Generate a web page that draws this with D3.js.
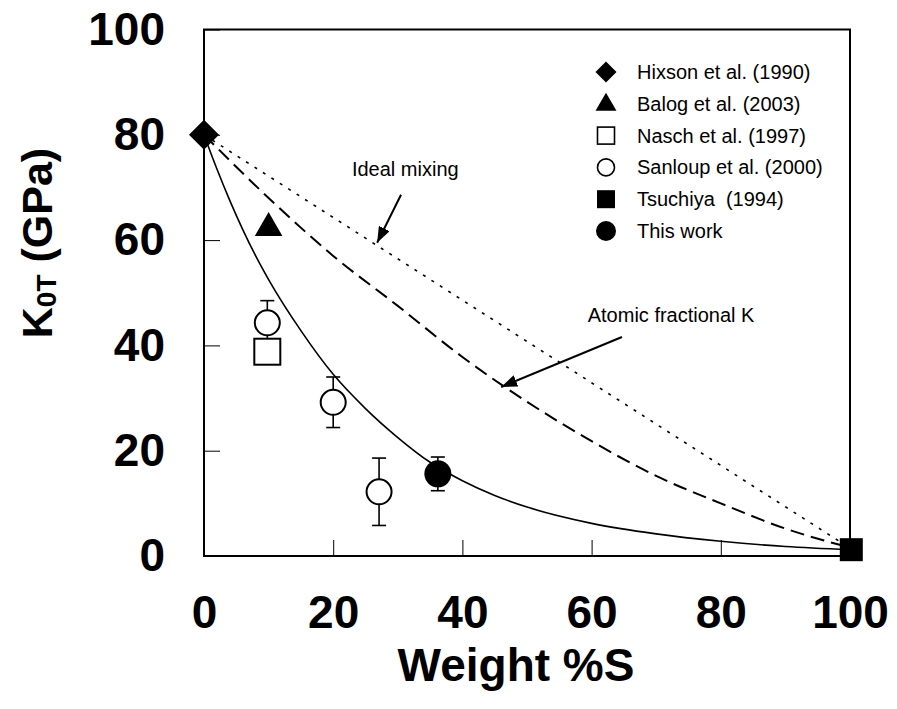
<!DOCTYPE html>
<html>

<head>
    <style>
        body { margin: 0; background: #fff; }
        svg text { font-family: "Liberation Sans", Arial, sans-serif; white-space: pre; }
    </style>
</head>

<body>
    <script src="https://d3js.org/d3.v7.min.js"></script>
    <div id="chart"></div>
    <script>
        const width = 897
        const height = 709

        // weight %S vs K0T (GPa)
        const solidX = [0, 2, 4, 6, 8, 10, 15, 20, 25, 30, 35, 40, 45, 50, 60, 70, 80, 90, 100]
        const solidY = [80, 73.5, 67.5, 62, 57, 52.5, 42.8, 34.5, 28, 22.5, 17.8, 14.3, 11.5, 9.3, 6.2, 4.2, 2.8, 1.8, 1.2]

        const atomicX = [0, 10, 20, 30, 40, 50, 60, 70, 80, 90, 100]
        const atomicY = [80, 68, 57, 47.5, 37.8, 29.3, 21.8, 15.2, 10, 5.2, 1.6]

        const idealX = [0, 100]
        const idealY = [80, 1.5]

        const hixson = [[0, 80]]
        const balog = [[10, 62.3]]
        const nasch = [[9.8, 38.8]]
        const sanloupX = [9.8, 20, 27.1]
        const sanloupY = [44.3, 29.2, 12.2]
        const sanloupErr = [4.2, 4.8, 6.4]
        const tsuchiya = [[100.2, 1.2]]
        const thisWorkX = [36.2]
        const thisWorkY = [15.6]
        const thisWorkErr = [3.2]

        const tickValues = [0, 20, 40, 60, 80, 100]
        const legendLabels = ["Hixson et al. (1990)", "Balog et al. (2003)", "Nasch et al. (1997)",
            "Sanloup et al. (2000)", "Tsuchiya  (1994)", "This work"]

        const xScale = d3.scaleLinear().domain([0, 100]).range([204, 850])
        const yScale = d3.scaleLinear().domain([0, 100]).range([556, 29.5])

        const svg = d3.select("#chart").append("svg")
            .attr("width", width).attr("height", height)

        svg.append("defs").append("marker")
            .attr("id", "arrow")
            .attr("markerUnits", "userSpaceOnUse")
            .attr("viewBox", "0 0 16 12")
            .attr("refX", 16).attr("refY", 6)
            .attr("markerWidth", 16).attr("markerHeight", 12)
            .attr("orient", "auto")
            .append("path").attr("d", "M0,0 L16,6 L0,12 Z").attr("fill", "#000")

        // axes with inward ticks
        const xAxis = d3.axisBottom(xScale).tickValues(tickValues)
            .tickSizeInner(-16).tickSizeOuter(0).tickPadding(39)
        const yAxis = d3.axisLeft(yScale).tickValues(tickValues)
            .tickSizeInner(-16).tickSizeOuter(0).tickPadding(39)

        const gx = svg.append("g").attr("transform", "translate(0,556)").call(xAxis)
        const gy = svg.append("g").attr("transform", "translate(204,0)").call(yAxis)
        for (const g of [gx, gy]) {
            g.select(".domain").remove()
            g.selectAll("line").attr("stroke", "#000").attr("stroke-width", 1)
            g.selectAll("text").attr("font-size", 46).attr("font-weight", "bold")
                .attr("font-family", "Liberation Sans, Arial, sans-serif").attr("fill", "#000")
        }

        svg.append("rect")
            .attr("x", xScale(0)).attr("y", yScale(100))
            .attr("width", xScale(100) - xScale(0)).attr("height", yScale(0) - yScale(100))
            .attr("fill", "none").attr("stroke", "#000").attr("stroke-width", 2)

        // curves
        const line = d3.line().x(d => xScale(d[0])).y(d => yScale(d[1]))
        const zip = (xs, ys) => xs.map((x, i) => [x, ys[i]])

        svg.append("path").datum(zip(idealX, idealY)).attr("d", line)
            .attr("fill", "none").attr("stroke", "#000").attr("stroke-width", 1.6)
            .attr("stroke-dasharray", "3,7")
        svg.append("path").datum(zip(atomicX, atomicY)).attr("d", line.curve(d3.curveMonotoneX))
            .attr("fill", "none").attr("stroke", "#000").attr("stroke-width", 2)
            .attr("stroke-dasharray", "14,7")
        svg.append("path").datum(zip(solidX, solidY)).attr("d", line.curve(d3.curveMonotoneX))
            .attr("fill", "none").attr("stroke", "#000").attr("stroke-width", 1.6)

        // error bars
        const errData = zip(sanloupX, sanloupY).map((d, i) => [d[0], d[1], sanloupErr[i]])
            .concat(zip(thisWorkX, thisWorkY).map((d, i) => [d[0], d[1], thisWorkErr[i]]))
        const eb = svg.append("g").attr("stroke", "#000").attr("stroke-width", 1.6)
        errData.forEach(d => {
            const cx = xScale(d[0])
            eb.append("line").attr("x1", cx).attr("x2", cx)
                .attr("y1", yScale(d[1] - d[2])).attr("y2", yScale(d[1] + d[2]))
            for (const v of [d[1] - d[2], d[1] + d[2]]) {
                eb.append("line").attr("x1", cx - 7).attr("x2", cx + 7)
                    .attr("y1", yScale(v)).attr("y2", yScale(v))
            }
        })

        // markers
        const sym = (type, size) => d3.symbol().type(type).size(size)
        const diamond = s => `M0,${-s}L${s},0L0,${s}L${-s},0Z`

        svg.selectAll(".hix").data(hixson).enter().append("path")
            .attr("transform", d => `translate(${xScale(d[0])},${yScale(d[1])})`)
            .attr("d", diamond(15)).attr("fill", "#000")
        svg.selectAll(".bal").data(balog).enter().append("path")
            .attr("transform", d => `translate(${xScale(d[0])},${yScale(d[1])})`)
            .attr("d", sym(d3.symbolTriangle, 330)).attr("fill", "#000")
        svg.selectAll(".nas").data(nasch).enter().append("rect")
            .attr("x", d => xScale(d[0]) - 13).attr("y", d => yScale(d[1]) - 13)
            .attr("width", 26).attr("height", 26)
            .attr("fill", "#fff").attr("stroke", "#000").attr("stroke-width", 2)
        svg.selectAll(".san").data(zip(sanloupX, sanloupY)).enter().append("circle")
            .attr("cx", d => xScale(d[0])).attr("cy", d => yScale(d[1])).attr("r", 12.5)
            .attr("fill", "#fff").attr("stroke", "#000").attr("stroke-width", 2)
        svg.selectAll(".tw").data(zip(thisWorkX, thisWorkY)).enter().append("circle")
            .attr("cx", d => xScale(d[0])).attr("cy", d => yScale(d[1])).attr("r", 13.5)
            .attr("fill", "#000")
        svg.selectAll(".tsu").data(tsuchiya).enter().append("rect")
            .attr("x", d => xScale(d[0]) - 11.5).attr("y", d => yScale(d[1]) - 11.5)
            .attr("width", 23).attr("height", 23).attr("fill", "#000")

        // annotations
        const notes = [
            { text: "Ideal mixing", tx: 22.9, ty: 72.2, from: [30.5, 68.6], to: [26.8, 59.5] },
            { text: "Atomic fractional K", tx: 59.4, ty: 44.4, from: [64.7, 41.6], to: [46.0, 32.1] }
        ]
        notes.forEach(n => {
            svg.append("text").attr("x", xScale(n.tx)).attr("y", yScale(n.ty))
                .attr("font-size", 20).text(n.text)
            svg.append("line")
                .attr("x1", xScale(n.from[0])).attr("y1", yScale(n.from[1]))
                .attr("x2", xScale(n.to[0])).attr("y2", yScale(n.to[1]))
                .attr("stroke", "#000").attr("stroke-width", 2).attr("marker-end", "url(#arrow)")
        })

        // legend
        const legend = svg.append("g").attr("transform", "translate(606,72)")
        legendLabels.forEach((label, i) => {
            const row = legend.append("g").attr("transform", `translate(0,${i * 31.8})`)
            if (i === 0) row.append("path").attr("d", diamond(10.5)).attr("fill", "#000")
            if (i === 1) row.append("path").attr("d", sym(d3.symbolTriangle, 190)).attr("fill", "#000")
                .attr("transform", "translate(0,1)")
            if (i === 2) row.append("rect").attr("x", -8.5).attr("y", -8.5).attr("width", 17).attr("height", 17)
                .attr("fill", "#fff").attr("stroke", "#000").attr("stroke-width", 1.6)
            if (i === 3) row.append("circle").attr("r", 8.5)
                .attr("fill", "#fff").attr("stroke", "#000").attr("stroke-width", 1.6)
            if (i === 4) row.append("rect").attr("x", -9).attr("y", -9).attr("width", 18).attr("height", 18)
                .attr("fill", "#000")
            if (i === 5) row.append("circle").attr("r", 10).attr("fill", "#000")
            row.append("text").attr("x", 31).attr("y", 7).attr("font-size", 20).text(label)
        })

        // axis titles
        svg.append("text")
            .attr("x", 516).attr("y", 681)
            .attr("text-anchor", "middle").attr("font-size", 46).attr("font-weight", "bold")
            .text("Weight %S")

        const yt = svg.append("text")
            .attr("transform", "translate(52,243) rotate(-90)")
            .attr("text-anchor", "middle").attr("font-size", 43).attr("font-weight", "bold")
        yt.append("tspan").text("K")
        yt.append("tspan").attr("font-size", 28).attr("dy", 4).text("0T")
        yt.append("tspan").attr("dy", -4).text(" (GPa)")
    </script>
</body>

</html>
